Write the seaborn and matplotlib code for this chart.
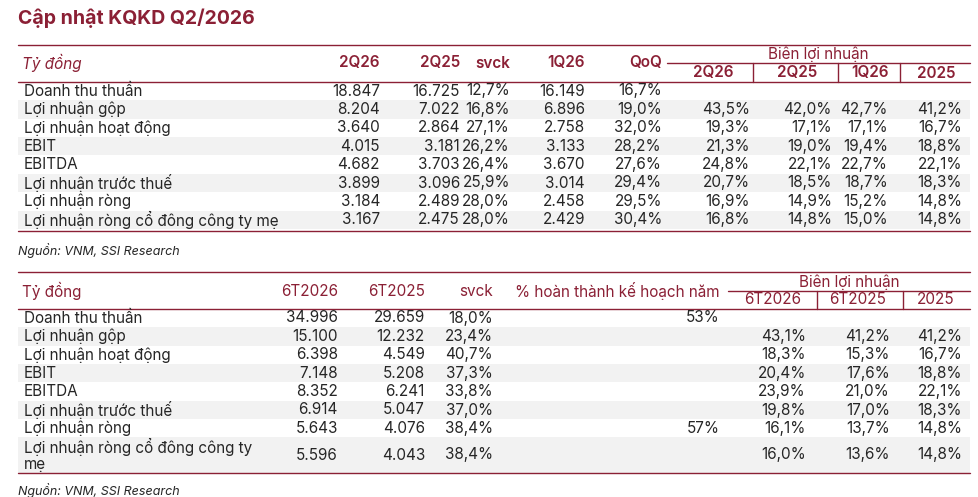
import matplotlib
matplotlib.use("Agg")
import matplotlib.pyplot as plt
import seaborn as sns

sns.set_theme(style="white")
plt.rcParams['font.family'] = ['Inter', 'DejaVu Sans']

RED = "#8B2035"
GRAY = "#F2F2F2"

title = "Cập nhật KQKD Q2/2026"
t1_unit = "Tỷ đồng"
t1_cols = ["2Q26", "2Q25", "svck", "1Q26", "QoQ"]
t1_margin_cols = ["2Q26", "2Q25", "1Q26", "2025"]
t1_rows = ["Doanh thu thuần", "Lợi nhuận gộp", "Lợi nhuận hoạt động", "EBIT", "EBITDA",
           "Lợi nhuận trước thuế", "Lợi nhuận ròng", "Lợi nhuận ròng cổ đông công ty mẹ"]
t1_2q26 = ["18.847", "8.204", "3.640", "4.015", "4.682", "3.899", "3.184", "3.167"]
t1_2q25 = ["16.725", "7.022", "2.864", "3.181", "3.703", "3.096", "2.489", "2.475"]
t1_svck = ["12,7%", "16,8%", "27,1%", "26,2%", "26,4%", "25,9%", "28,0%", "28,0%"]
t1_1q26 = ["16.149", "6.896", "2.758", "3.133", "3.670", "3.014", "2.458", "2.429"]
t1_qoq = ["16,7%", "19,0%", "32,0%", "28,2%", "27,6%", "29,4%", "29,5%", "30,4%"]
t1_m2q26 = ["", "43,5%", "19,3%", "21,3%", "24,8%", "20,7%", "16,9%", "16,8%"]
t1_m2q25 = ["", "42,0%", "17,1%", "19,0%", "22,1%", "18,5%", "14,9%", "14,8%"]
t1_m1q26 = ["", "42,7%", "17,1%", "19,4%", "22,7%", "18,7%", "15,2%", "15,0%"]
t1_m2025 = ["", "41,2%", "16,7%", "18,8%", "22,1%", "18,3%", "14,8%", "14,8%"]

t2_cols = ["6T2026", "6T2025", "svck", "% hoàn thành kế hoạch năm"]
t2_margin_cols = ["6T2026", "6T2025", "2025"]
t2_rows = ["Doanh thu thuần", "Lợi nhuận gộp", "Lợi nhuận hoạt động", "EBIT", "EBITDA",
           "Lợi nhuận trước thuế", "Lợi nhuận ròng", "Lợi nhuận ròng cổ đông công ty\nmẹ"]
t2_6t26 = ["34.996", "15.100", "6.398", "7.148", "8.352", "6.914", "5.643", "5.596"]
t2_6t25 = ["29.659", "12.232", "4.549", "5.208", "6.241", "5.047", "4.076", "4.043"]
t2_svck = ["18,0%", "23,4%", "40,7%", "37,3%", "33,8%", "37,0%", "38,4%", "38,4%"]
t2_plan = ["53%", "", "", "", "", "", "57%", ""]
t2_m6t26 = ["", "43,1%", "18,3%", "20,4%", "23,9%", "19,8%", "16,1%", "16,0%"]
t2_m6t25 = ["", "41,2%", "15,3%", "17,6%", "21,0%", "17,0%", "13,7%", "13,6%"]
t2_m2025 = ["", "41,2%", "16,7%", "18,8%", "22,1%", "18,3%", "14,8%", "14,8%"]
source = "Nguồn: VNM, SSI Research"

fig = plt.figure(figsize=(9.79, 4.97), dpi=100)
ax = fig.add_axes([0, 0, 1, 1])
ax.set_xlim(0, 979); ax.set_ylim(497, 0); ax.axis("off")
FS = 11

ax.text(18, 18, title, color=RED, fontsize=14, fontweight="bold", va="center")

def table(top, head_y, bien_y, sub_y, hline, row_ys, row_h, rows, colx, cols, data,
          mleft, msub_x, msep, mcols, mdata, mx, unit_style, bold_head, bottom, src_y):
    ax.plot([18, 970], [top, top], color=RED, lw=1)
    ax.plot([18, 970], [hline, hline], color=RED, lw=1)
    ax.plot([18, 970], [bottom, bottom], color=RED, lw=1)
    ax.text(22, head_y, t1_unit, color=RED, fontsize=FS, style=unit_style, va="center")
    fw = "semibold" if bold_head else "normal"
    for x, c in zip(colx, cols):
        ax.text(x, head_y, c, color=RED, fontsize=FS, fontweight=fw, ha="right", va="center")
    ax.text((mleft + 970) / 2, bien_y, "Biên lợi nhuận", color=RED, fontsize=FS, ha="center", va="center")
    ax.plot([mleft, 970], [bien_y + 9, bien_y + 9], color=RED, lw=1)
    for s in msep:
        ax.plot([s, s], [bien_y + 9, hline], color=RED, lw=1)
    for x, c in zip(msub_x, mcols):
        ax.text(x, sub_y, c, color=RED, fontsize=FS, fontweight=fw, ha="center", va="center")
    for i, (y, h, r) in enumerate(zip(row_ys, row_h, rows)):
        if i % 2 == 1:
            ax.add_patch(plt.Rectangle((18, y - h / 2), 952, h, color=GRAY, lw=0, zorder=0))
        ax.text(24, y, r, fontsize=FS, va="center", linespacing=1.1)
        for x, col in zip(colx, data):
            ax.text(x, y, col[i], fontsize=FS, ha="right", va="center")
        for x, col in zip(mx, mdata):
            ax.text(x, y, col[i], fontsize=FS, ha="right", va="center")
    ax.text(18, src_y, source, fontsize=9, style="italic", va="center")

table(45, 63, 54, 73, 82, [91 + 18.4 * i for i in range(8)], [18.4] * 8, t1_rows,
      [380, 460, 510, 585, 662], t1_cols, [t1_2q26, t1_2q25, t1_svck, t1_1q26, t1_qoq],
      667, [713, 797, 870, 936], [753, 838, 900], t1_margin_cols,
      [t1_m2q26, t1_m2q25, t1_m1q26, t1_m2025], [750, 832, 888, 962], "italic", True, 231, 251)

ys2 = [318 + 18.4 * i for i in range(7)] + [455]
hs2 = [18.4] * 7 + [36]
table(272, 291, 282, 299, 309, ys2, hs2, t2_rows,
      [338, 425, 493, 720], t2_cols, [t2_6t26, t2_6t25, t2_svck, t2_plan],
      728, [773, 858, 936], [817, 903], t2_margin_cols,
      [t2_m6t26, t2_m6t25, t2_m2025], [806, 890, 962], "normal", False, 473, 491)

fig.savefig("out.png", dpi=100)
